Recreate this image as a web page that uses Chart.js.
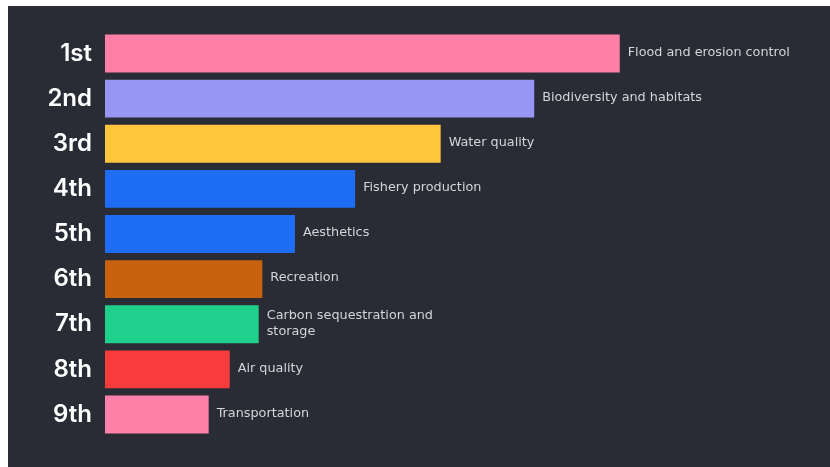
<!DOCTYPE html>
<html>
<head>
<meta charset="utf-8">
<script src="https://cdn.jsdelivr.net/npm/chart.js@4"></script>
<style>
html,body{margin:0;padding:0;background:#ffffff;width:830px;height:467px;overflow:hidden;}
#wrap{position:absolute;left:8px;top:6px;width:822px;height:461px;background:#292c35;}
canvas{display:block;}
</style>
</head>
<body>
<div id="wrap"><canvas id="c" width="822" height="461"></canvas></div>
<script>
const ranks = ["1st","2nd","3rd","4th","5th","6th","7th","8th","9th"];
const services = ["Flood and erosion control","Biodiversity and habitats","Water quality","Fishery production","Aesthetics","Recreation",["Carbon sequestration and","storage"],"Air quality","Transportation"];
const scores = [71.0, 59.2, 46.3, 34.5, 26.2, 21.7, 21.2, 17.2, 14.3];
const barColors = ["#ff7fa7","#9896f4","#fec53d","#1f6cf5","#1f6cf5","#c9620e","#1fd08c","#f93b3b","#ff80a9"];

const endLabels = {
  id:'endLabels',
  afterDatasetsDraw(chart){
    const ctx = chart.ctx;
    const meta = chart.getDatasetMeta(0);
    ctx.save();
    ctx.fillStyle = '#d4d5d8';
    ctx.font = '12.8px "DejaVu Sans"';
    ctx.textBaseline = 'middle';
    ctx.textAlign = 'left';
    meta.data.forEach((bar,i)=>{
      const lab = services[i];
      const lines = Array.isArray(lab) ? lab : [lab];
      const lh = 16;
      const y0 = bar.y - (lines.length-1)*lh/2 - 1;
      lines.forEach((t,j)=>ctx.fillText(t, bar.x + 8, y0 + j*lh));
    });
    ctx.restore();
  }
};

new Chart(document.getElementById('c'), {
  type:'bar',
  data:{
    labels: ranks,
    datasets:[{data: scores, backgroundColor: barColors, borderWidth:0, barPercentage:0.84, categoryPercentage:1.0}]
  },
  options:{
    indexAxis:'y',
    responsive:false,
    animation:false,
    layout:{padding:{top:25,bottom:30,left:0,right:0}},
    plugins:{legend:{display:false},tooltip:{enabled:false}},
    scales:{
      x:{display:false,min:0,max:100},
      y:{
        grid:{display:false},
        border:{display:false},
        afterFit(s){ s.width = 97; },
        ticks:{color:'#ffffff',padding:5,font:{family:'Inter',size:24,weight:'600'}}
      }
    }
  },
  plugins:[endLabels]
});
</script>
</body>
</html>
